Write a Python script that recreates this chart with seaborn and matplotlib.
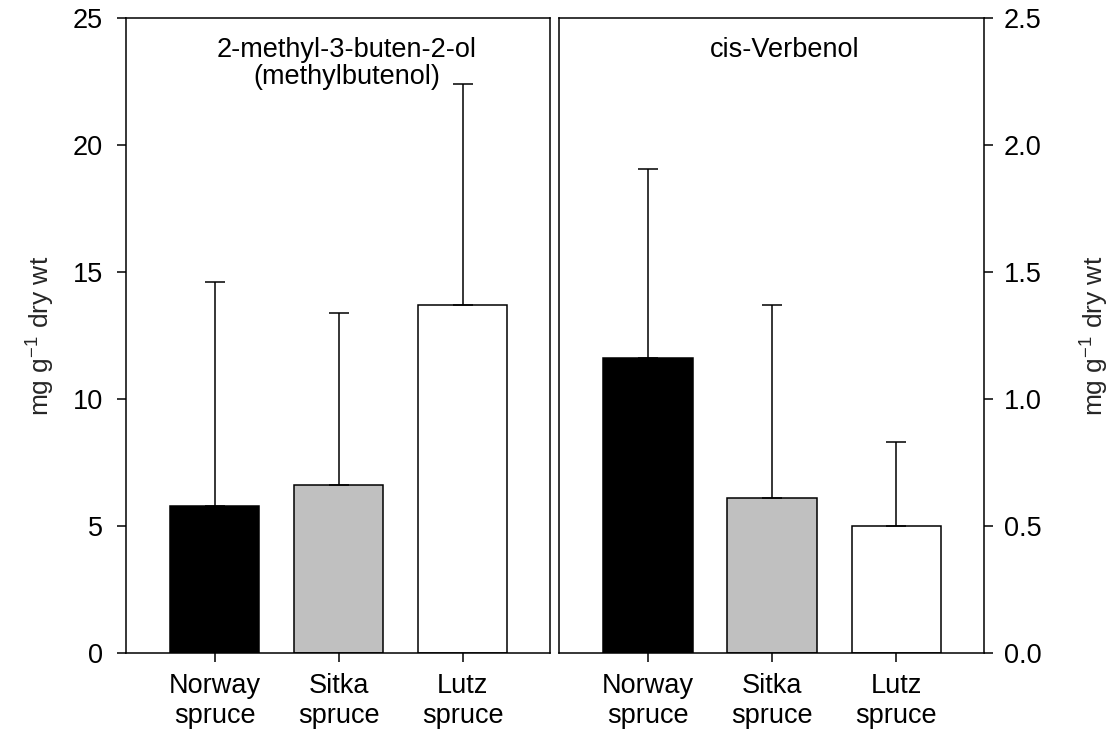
import matplotlib
matplotlib.use("Agg")
import matplotlib.pyplot as plt
import seaborn as sns
import pandas as pd

# -------- DATA --------
species = ["Norway\nspruce", "Sitka\nspruce", "Lutz\nspruce"]
bar_colors = ["#000000", "#c0c0c0", "#ffffff"]

mbo_mean = [5.8, 6.6, 13.7]
mbo_sd = [8.8, 6.8, 8.7]

verb_mean = [1.16, 0.61, 0.50]
verb_sd = [0.745, 0.76, 0.33]
# ----------------------

sns.set_theme(style="white")
plt.rcParams["font.family"] = ["Liberation Sans", "DejaVu Sans"]
plt.rcParams["axes.linewidth"] = 1.1
plt.rcParams["xtick.major.width"] = 1.1
plt.rcParams["ytick.major.width"] = 1.1

fig = plt.figure(figsize=(11.17, 7.34), dpi=100)
ax1 = fig.add_axes([0.1128, 0.1104, 0.3796, 0.8651])
ax2 = fig.add_axes([0.5004, 0.1104, 0.3805, 0.8651])

ylab = r"mg g$^{\mathregular{-1}}$ dry wt"
FS = 19.5


def draw_panel(ax, mean, sd, title_lines, title_x, ymax, yticks, fmt):
    df = pd.DataFrame({"species": species, "value": mean})
    sns.barplot(data=df, x="species", y="value", hue="species",
                palette=bar_colors, edgecolor="black", linewidth=1.1,
                width=0.72, legend=False, errorbar=None, ax=ax)
    ax.errorbar(range(len(mean)), mean, yerr=[[0] * len(sd), sd],
                fmt="none", ecolor="black", elinewidth=1.1,
                capsize=7.2, capthick=1.1, zorder=1)
    ax.set_xlim(-0.715, 2.705)
    ax.set_ylim(0, ymax)
    ax.set_yticks(yticks)
    ax.set_yticklabels([fmt.format(v) for v in yticks])
    ax.set_xlabel("")
    for i, line in enumerate(title_lines):
        ax.text(title_x, 0.9386 - i * 0.0425, line, transform=ax.transAxes,
                ha="center", va="baseline", fontsize=FS, color="black")
    for s in ax.spines.values():
        s.set_visible(True)
        s.set_color("black")
    ax.tick_params(axis="x", bottom=True, direction="out", length=6.5,
                   labelsize=FS, pad=8, colors="black")
    ax.tick_params(axis="y", direction="out", length=6.5, labelsize=FS,
                   colors="black")


draw_panel(ax1, mbo_mean, mbo_sd,
           ["2-methyl-3-buten-2-ol", "(methylbutenol)"], 0.52,
           25, [0, 5, 10, 15, 20, 25], "{:.0f}")
ax1.tick_params(axis="y", left=True, right=False, pad=10)
ax1.set_ylabel(ylab, fontsize=19, labelpad=12)

draw_panel(ax2, verb_mean, verb_sd, ["cis-Verbenol"], 0.532,
           2.5, [0.0, 0.5, 1.0, 1.5, 2.0, 2.5], "{:.1f}")
ax2.yaxis.tick_right()
ax2.yaxis.set_label_position("right")
ax2.tick_params(axis="y", left=False, right=True, labelleft=False,
                labelright=True, pad=8)
ax2.set_ylabel(ylab, fontsize=19, labelpad=25, rotation=90)

for lab in ax1.get_xticklabels() + ax2.get_xticklabels():
    lab.set_linespacing(1.2)

fig.savefig("out.png", dpi=100)
